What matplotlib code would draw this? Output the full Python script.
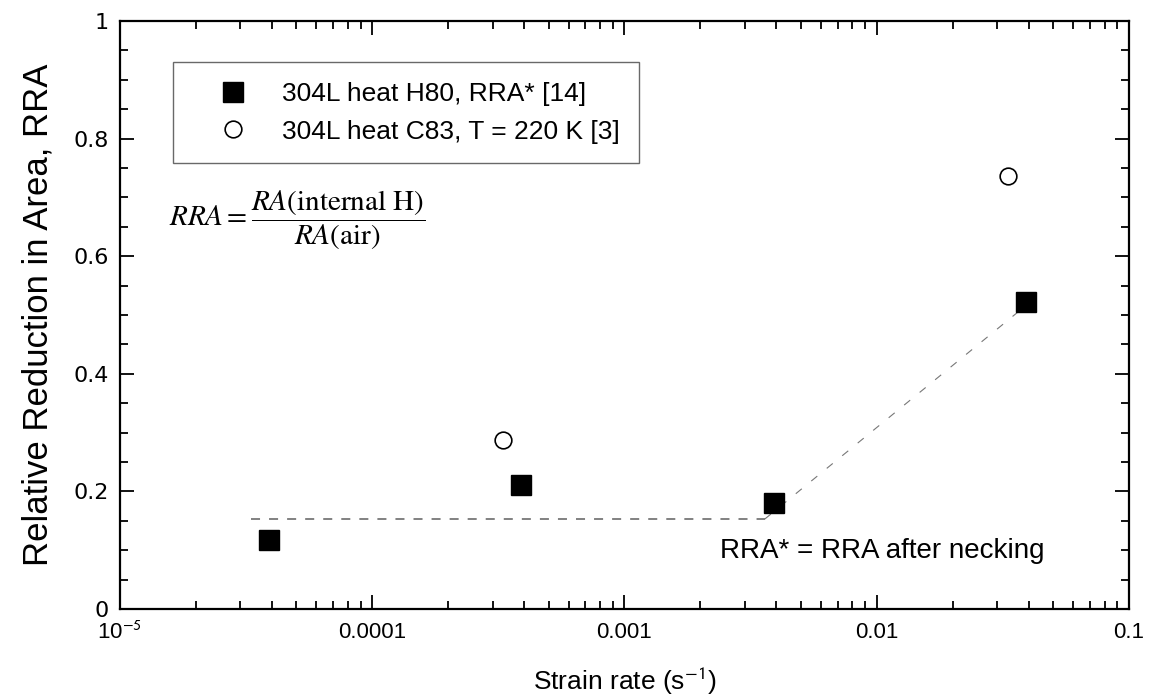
import matplotlib
matplotlib.use("Agg")
import matplotlib.pyplot as plt
from matplotlib.ticker import LogLocator, MultipleLocator, FixedLocator, FixedFormatter, NullFormatter

plt.rcParams['font.family'] = ['Liberation Sans', 'DejaVu Sans']
plt.rcParams['mathtext.fontset'] = 'stix'

# Data
h80_rate = [3.9e-5, 3.9e-4, 3.9e-3, 3.9e-2]
h80_rra = [0.117, 0.211, 0.180, 0.522]
c83_rate = [3.3e-4, 3.3e-2]
c83_rra = [0.287, 0.736]
plateau_x = [3.3e-5, 3.6e-3]
plateau_y = [0.153, 0.153]
rise_x = [3.6e-3, 3.75e-2]
rise_y = [0.153, 0.51]
xtick_vals = [1e-5, 1e-4, 1e-3, 1e-2, 1e-1]
xtick_labels = [r'10$^{\mathsf{-5}}$', '0.0001', '0.001', '0.01', '0.1']
ytick_vals = [0, 0.2, 0.4, 0.6, 0.8, 1]
ytick_labels = ['0', '0.2', '0.4', '0.6', '0.8', '1']

fig = plt.figure(figsize=(11.49, 6.98), dpi=100)
ax = fig.add_axes([0.1044, 0.1275, 0.8782, 0.8425])

ax.plot(plateau_x, plateau_y, color='#777777', lw=1.3, dashes=(5, 5))
ax.plot(rise_x, rise_y, color='#777777', lw=0.8, dashes=(7, 11))

ax.plot(h80_rate, h80_rra, linestyle='none', marker='s', ms=14, mfc='black', mec='black',
        label='304L heat H80, RRA* [14]')
ax.plot(c83_rate, c83_rra, linestyle='none', marker='o', ms=12, mfc='white', mec='black', mew=1.2,
        label='304L heat C83, T = 220 K [3]')

ax.set_xscale('log')
ax.set_xlim(1e-5, 0.1)
ax.set_ylim(0, 1)

ax.xaxis.set_major_locator(FixedLocator(xtick_vals))
ax.xaxis.set_major_formatter(FixedFormatter(xtick_labels))
ax.xaxis.set_minor_locator(LogLocator(base=10, subs=range(2, 10), numticks=20))
ax.xaxis.set_minor_formatter(NullFormatter())
ax.yaxis.set_major_locator(FixedLocator(ytick_vals))
ax.yaxis.set_major_formatter(FixedFormatter(ytick_labels))
ax.yaxis.set_minor_locator(MultipleLocator(0.05))

ax.tick_params(which='both', direction='in', top=True, right=True, width=1.3)
ax.tick_params(which='major', length=10)
ax.tick_params(which='minor', length=6)
ax.tick_params(axis='x', pad=9, labelsize=16)
ax.tick_params(axis='y', pad=8, labelsize=16)
for lab in ax.get_yticklabels():
    lab.set_family(['DejaVu Sans'])
for s in ax.spines.values():
    s.set_linewidth(1.6)

ax.set_xlabel('Strain rate (s$^{\\mathsf{-1}}$)', fontsize=19, labelpad=16)
ax.set_ylabel('Relative Reduction in Area, RRA', fontsize=25, labelpad=14)

leg = ax.legend(loc='upper left', bbox_to_anchor=(0.053, 0.93), fontsize=19,
                frameon=True, fancybox=False, edgecolor='#444444', borderpad=0.75,
                handlelength=3.0, handletextpad=0.35, labelspacing=0.52, borderaxespad=0)
leg.get_frame().set_linewidth(1.0)

ax.text(0.049, 0.66, r'$RRA = \dfrac{RA\left(\mathrm{internal\ H}\right)}{RA\left(\mathrm{air}\right)}$',
        transform=ax.transAxes, fontsize=21, va='center', ha='left')
ax.text(0.595, 0.099, 'RRA* = RRA after necking', transform=ax.transAxes,
        fontsize=20, va='center', ha='left')

fig.savefig('out.png', dpi=100)
